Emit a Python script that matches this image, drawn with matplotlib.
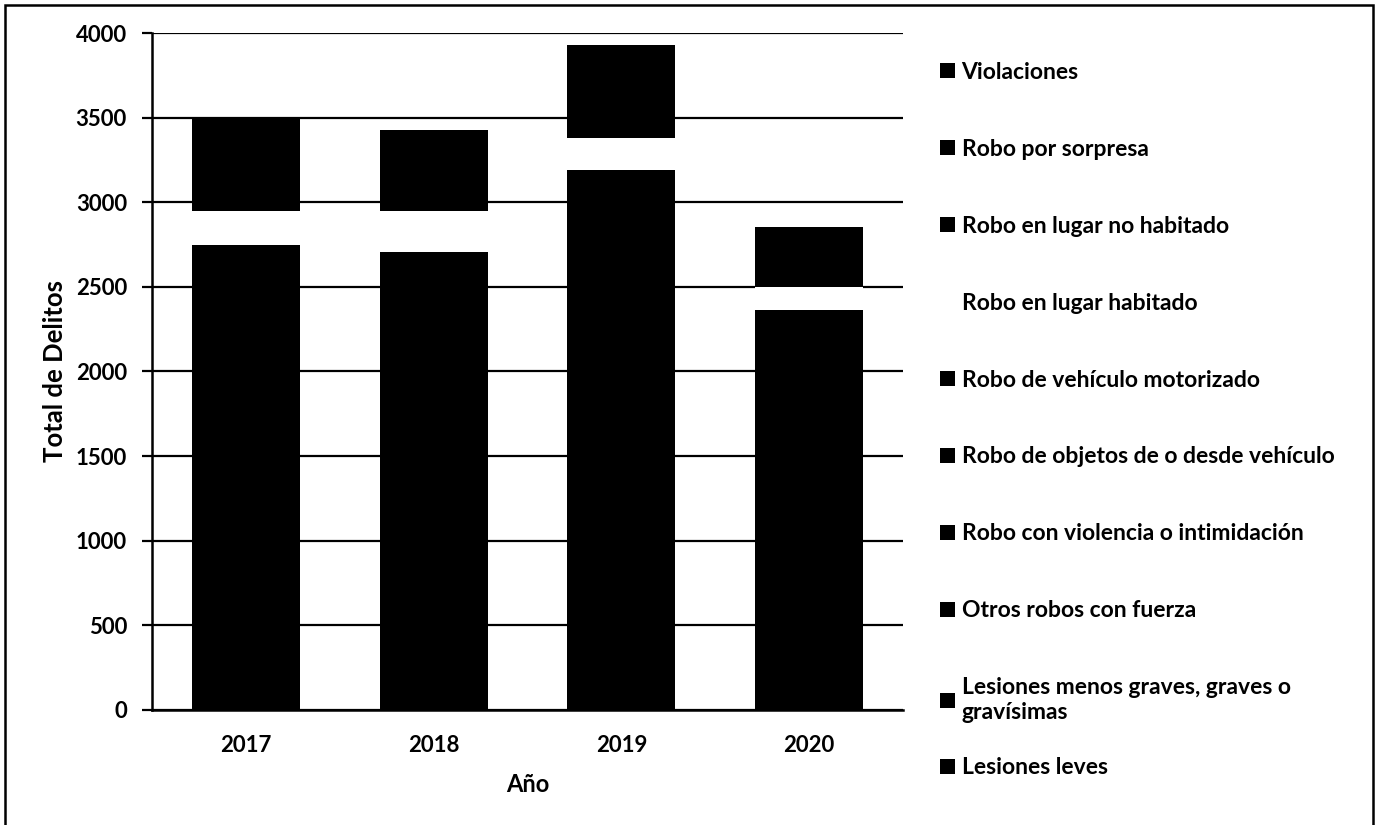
import numpy as np
import matplotlib.pyplot as plt
from matplotlib.patches import Rectangle, Patch

# Data (bottom of stack first)
years = ['2017', '2018', '2019', '2020']
categorias = ['Lesiones leves',
              'Lesiones menos graves, graves o\ngravísimas',
              'Otros robos con fuerza',
              'Robo con violencia o intimidación',
              'Robo de objetos de o desde vehículo',
              'Robo de vehículo motorizado',
              'Robo en lugar habitado',
              'Robo en lugar no habitado',
              'Robo por sorpresa',
              'Violaciones']
lesiones_leves = [1050, 1020, 1180, 950]
lesiones_graves = [230, 220, 250, 200]
otros_robos = [60, 55, 70, 40]
robo_violencia = [280, 300, 340, 230]
robo_objetos = [780, 760, 950, 640]
robo_vehiculo = [347, 351, 400, 303]
robo_habitado = [203, 244, 190, 136]
robo_no_habitado = [300, 250, 310, 190]
robo_sorpresa = [200, 180, 190, 130]
violaciones = [50, 47, 49, 35]

series = [lesiones_leves, lesiones_graves, otros_robos, robo_violencia, robo_objetos,
          robo_vehiculo, robo_habitado, robo_no_habitado, robo_sorpresa, violaciones]
colores = ['black'] * 6 + ['white'] + ['black'] * 3

plt.rcParams['font.family'] = ['Lato', 'DejaVu Sans']

fig = plt.figure(figsize=(13.79, 8.25), dpi=100)
ax = fig.add_axes([0.1102, 0.1394, 0.5446, 0.8206])

x = np.arange(len(years))
bottom = np.zeros(len(years))
for vals, c in zip(series, colores):
    ax.bar(x, vals, width=0.575, bottom=bottom, color=c, zorder=3)
    bottom += np.array(vals)

ax.set_xlim(-0.5, 3.5)
ax.set_ylim(0, 4000)
ax.set_yticks(np.arange(0, 4001, 500))
ax.set_xticks(x)
ax.set_xticklabels(years)
ax.grid(axis='y', color='black', linewidth=1.6, zorder=0)
ax.set_axisbelow(True)
for s in ['top', 'right']:
    ax.spines[s].set_visible(False)
ax.spines['left'].set_linewidth(1.8)
ax.spines['bottom'].set_linewidth(1.8)
ax.tick_params(axis='y', length=7, width=1.6, labelsize=16, pad=11)
ax.tick_params(axis='x', length=0, labelsize=16, pad=18)
for lab in ax.get_xticklabels() + ax.get_yticklabels():
    lab.set_fontweight('bold')

ax.set_ylabel('Total de Delitos', fontsize=18.5, fontweight='bold', labelpad=6)
ax.set_xlabel('Año', fontsize=17, fontweight='bold', labelpad=12)

# Legend, top entry = top of stack; last entry in its own legend (tighter gap)
handles = [Patch(facecolor=c, edgecolor='none') for c in colores][::-1]
labels = categorias[::-1]
leg_kw = dict(frameon=False, handlelength=0.62, handleheight=0.62, handletextpad=0.3,
              prop={'weight': 'bold', 'size': 16.5})
fig.legend(handles[:-1], labels[:-1], loc='upper left', bbox_to_anchor=(0.667, 0.95),
           labelspacing=2.44, **leg_kw)
fig.legend(handles[-1:], labels[-1:], loc='center left', bbox_to_anchor=(0.667, 1 - 768 / 825),
           **leg_kw)

# Outer frame
fig.patches.append(Rectangle((5 / 1379, -0.01), 1368 / 1379, 1 - 5 / 825 + 0.01,
                             transform=fig.transFigure, fill=False,
                             edgecolor='black', linewidth=1.8))

fig.savefig('out.png', dpi=100)
